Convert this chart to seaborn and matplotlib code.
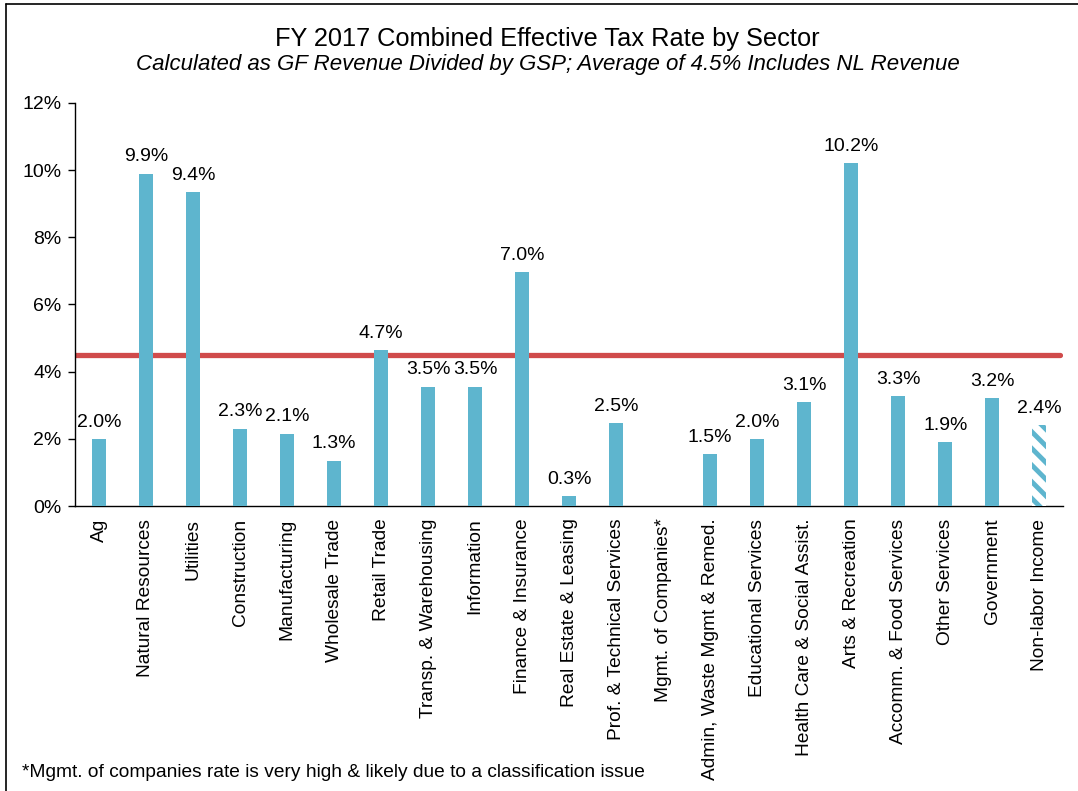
import matplotlib
matplotlib.use("Agg")
import matplotlib.pyplot as plt
import seaborn as sns
import pandas as pd
import numpy as np
from matplotlib.lines import Line2D

sectors = ["Ag", "Natural Resources", "Utilities", "Construction", "Manufacturing",
           "Wholesale Trade", "Retail Trade", "Transp. & Warehousing", "Information",
           "Finance & Insurance", "Real Estate & Leasing", "Prof. & Technical Services",
           "Mgmt. of Companies*", "Admin, Waste Mgmt & Remed.", "Educational Services",
           "Health Care & Social Assist.", "Arts & Recreation", "Accomm. & Food Services",
           "Other Services", "Government", "Non-labor Income"]
rates = [2.0, 9.9, 9.35, 2.3, 2.15, 1.35, 4.65, 3.55, 3.55, 6.97, 0.3, 2.47,
         np.nan, 1.55, 2.0, 3.1, 10.2, 3.27, 1.9, 3.22, 2.4]
labels = ["2.0%", "9.9%", "9.4%", "2.3%", "2.1%", "1.3%", "4.7%", "3.5%", "3.5%",
          "7.0%", "0.3%", "2.5%", "", "1.5%", "2.0%", "3.1%", "10.2%", "3.3%",
          "1.9%", "3.2%", "2.4%"]
average = 4.5
yticks = [0, 2, 4, 6, 8, 10, 12]

sns.set_theme(style="white")
plt.rcParams['font.family'] = ['Liberation Sans', 'DejaVu Sans']
plt.rcParams['hatch.linewidth'] = 3.5
plt.rcParams['text.color'] = 'black'
plt.rcParams['xtick.color'] = 'black'
plt.rcParams['ytick.color'] = 'black'

BLUE = "#5EB5CE"
RED = "#D04B4B"

df = pd.DataFrame({"sector": sectors, "rate": rates})

fig = plt.figure(figsize=(10.78, 7.91), dpi=100)
ax = fig.add_axes([0.070, 0.3603, 0.916, 0.5095])

sns.barplot(data=df, x="sector", y="rate", color=BLUE, saturation=1,
            width=0.3, ax=ax, zorder=3, linewidth=0)

# hatched last bar
last = [p for p in ax.patches][-1]
last.set_facecolor("white")
last.set_edgecolor(BLUE)
last.set_hatch("\\\\")
last.set_linewidth(0)

ax.axhline(average, color=RED, lw=3.8, zorder=2, xmax=0.997)

for i, (v, lab) in enumerate(zip(rates, labels)):
    if lab and not np.isnan(v):
        ax.annotate(lab, (i, v), xytext=(0, 6), textcoords="offset points",
                    ha="center", va="bottom", fontsize=14, color="black")

ax.set_ylim(0, 12)
ax.set_xlim(-0.5, len(sectors) - 0.5)
ax.set_yticks(yticks)
ax.set_yticklabels([f"{t}%" for t in yticks], fontsize=14)
ax.set_xticks(range(len(sectors)))
ax.set_xticklabels(sectors, rotation=90, fontsize=13.8)
ax.set_xlabel("")
ax.set_ylabel("")
ax.tick_params(axis="y", which="both", left=True, length=5, width=1, color="black", pad=5)
ax.tick_params(axis="x", bottom=False, pad=3)
for s in ["top", "right"]:
    ax.spines[s].set_visible(False)
for s in ["left", "bottom"]:
    ax.spines[s].set_color("black")
    ax.spines[s].set_linewidth(1.0)

fig.text(0.508, 0.951, "FY 2017 Combined Effective Tax Rate by Sector",
         ha="center", va="center", fontsize=18.3)
fig.text(0.508, 0.919, "Calculated as GF Revenue Divided by GSP; Average of 4.5% Includes NL Revenue",
         ha="center", va="center", fontsize=16, style="italic")
fig.text(0.020, 0.023, "*Mgmt. of companies rate is very high & likely due to a classification issue",
         ha="left", va="center", fontsize=13.8)

# frame lines (left and top)
fig.add_artist(Line2D([6/1078, 6/1078], [0, 1 - 4/791], transform=fig.transFigure,
                      color="black", lw=1.2))
fig.add_artist(Line2D([6/1078, 1], [1 - 4/791, 1 - 4/791], transform=fig.transFigure,
                      color="black", lw=1.2))

fig.savefig("out.png", dpi=100)
